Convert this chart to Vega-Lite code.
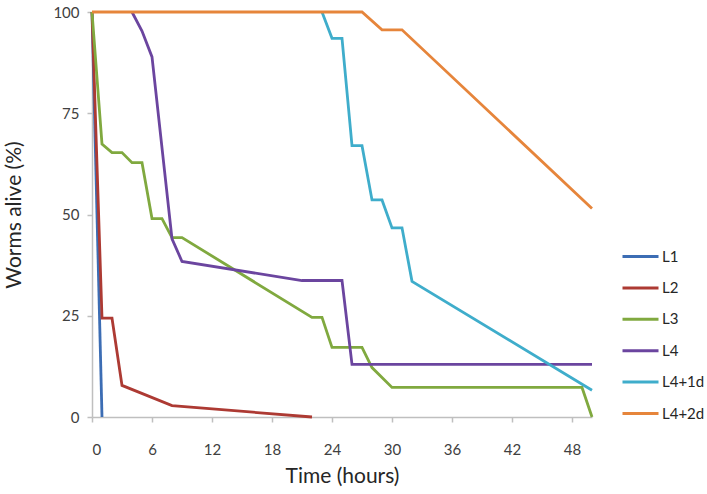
{
  "$schema": "https://vega.github.io/schema/vega-lite/v6.json",
  "width": 500,
  "height": 405,
  "autosize": {"type": "none"},
  "padding": {"left": 92, "top": 12, "right": 115, "bottom": 77},
  "background": "white",
  "config": {
    "view": {"stroke": null},
    "font": "Lato"
  },
  "data": {
    "values": [
      {"series": "L1", "t": 0, "v": 100},
      {"series": "L1", "t": 1, "v": 0},
      {"series": "L2", "t": 0, "v": 100},
      {"series": "L2", "t": 1, "v": 24.4},
      {"series": "L2", "t": 2, "v": 24.4},
      {"series": "L2", "t": 3, "v": 7.8},
      {"series": "L2", "t": 8, "v": 2.8},
      {"series": "L2", "t": 22, "v": 0},
      {"series": "L3", "t": 0, "v": 100},
      {"series": "L3", "t": 1, "v": 67.4},
      {"series": "L3", "t": 2, "v": 65.3},
      {"series": "L3", "t": 3, "v": 65.3},
      {"series": "L3", "t": 4, "v": 62.8},
      {"series": "L3", "t": 5, "v": 62.8},
      {"series": "L3", "t": 6, "v": 49},
      {"series": "L3", "t": 7, "v": 49},
      {"series": "L3", "t": 8, "v": 44.3},
      {"series": "L3", "t": 9, "v": 44.3},
      {"series": "L3", "t": 22, "v": 24.6},
      {"series": "L3", "t": 23, "v": 24.6},
      {"series": "L3", "t": 24, "v": 17.2},
      {"series": "L3", "t": 27, "v": 17.2},
      {"series": "L3", "t": 28, "v": 12.2},
      {"series": "L3", "t": 30, "v": 7.3},
      {"series": "L3", "t": 49, "v": 7.3},
      {"series": "L3", "t": 50, "v": 0},
      {"series": "L4", "t": 4, "v": 100},
      {"series": "L4", "t": 5, "v": 95.3},
      {"series": "L4", "t": 6, "v": 88.9},
      {"series": "L4", "t": 8, "v": 44},
      {"series": "L4", "t": 9, "v": 38.4},
      {"series": "L4", "t": 21, "v": 33.7},
      {"series": "L4", "t": 25, "v": 33.7},
      {"series": "L4", "t": 26, "v": 13},
      {"series": "L4", "t": 50, "v": 13},
      {"series": "L4+1d", "t": 23, "v": 100},
      {"series": "L4+1d", "t": 24, "v": 93.5},
      {"series": "L4+1d", "t": 25, "v": 93.5},
      {"series": "L4+1d", "t": 26, "v": 67},
      {"series": "L4+1d", "t": 27, "v": 67},
      {"series": "L4+1d", "t": 28, "v": 53.6},
      {"series": "L4+1d", "t": 29, "v": 53.6},
      {"series": "L4+1d", "t": 30, "v": 46.7},
      {"series": "L4+1d", "t": 31, "v": 46.7},
      {"series": "L4+1d", "t": 32, "v": 33.5},
      {"series": "L4+1d", "t": 50, "v": 6.6},
      {"series": "L4+2d", "t": 0, "v": 100},
      {"series": "L4+2d", "t": 27, "v": 100},
      {"series": "L4+2d", "t": 29, "v": 95.6},
      {"series": "L4+2d", "t": 31, "v": 95.6},
      {"series": "L4+2d", "t": 50, "v": 51.5}
    ]
  },
  "mark": {"type": "line", "strokeWidth": 2.8, "strokeJoin": "miter"},
  "encoding": {
    "x": {
      "field": "t",
      "type": "quantitative",
      "title": "Time (hours)",
      "scale": {"domain": [0, 50], "nice": false, "zero": true},
      "axis": {
        "values": [0, 6, 12, 18, 24, 30, 36, 42, 48],
        "grid": false,
        "domainColor": "#bfbfbf",
        "domainWidth": 1.5,
        "tickColor": "#bfbfbf",
        "tickWidth": 1.5,
        "tickSize": 5,
        "labelFontSize": 15,
        "labelColor": "#404040",
        "labelPadding": 20,
        "titleFontSize": 21,
        "titleFontWeight": "normal",
        "titleColor": "#262626",
        "titlePadding": 8
      }
    },
    "y": {
      "field": "v",
      "type": "quantitative",
      "title": "Worms alive (%)",
      "scale": {"domain": [0, 100], "nice": false},
      "axis": {
        "values": [0, 25, 50, 75, 100],
        "grid": false,
        "domainColor": "#bfbfbf",
        "domainWidth": 1.5,
        "tickColor": "#bfbfbf",
        "tickWidth": 1.5,
        "tickSize": 5,
        "labelFontSize": 15,
        "labelColor": "#404040",
        "labelPadding": 8,
        "titleFontSize": 21,
        "titleFontWeight": "normal",
        "titleColor": "#262626",
        "titlePadding": 28
      }
    },
    "color": {
      "field": "series",
      "type": "nominal",
      "title": null,
      "scale": {
        "domain": ["L1", "L2", "L3", "L4", "L4+1d", "L4+2d"],
        "range": ["#3c6db4", "#ad3a33", "#80a93f", "#6b459f", "#3fadcb", "#e6853b"]
      },
      "legend": {
        "orient": "none",
        "legendX": 529,
        "legendY": 225,
        "symbolType": "stroke",
        "symbolSize": 1296,
        "symbolStrokeWidth": 3,
        "labelFontSize": 15,
        "labelColor": "#262626",
        "labelOffset": 2,
        "rowPadding": 3.4
      }
    }
  }
}
